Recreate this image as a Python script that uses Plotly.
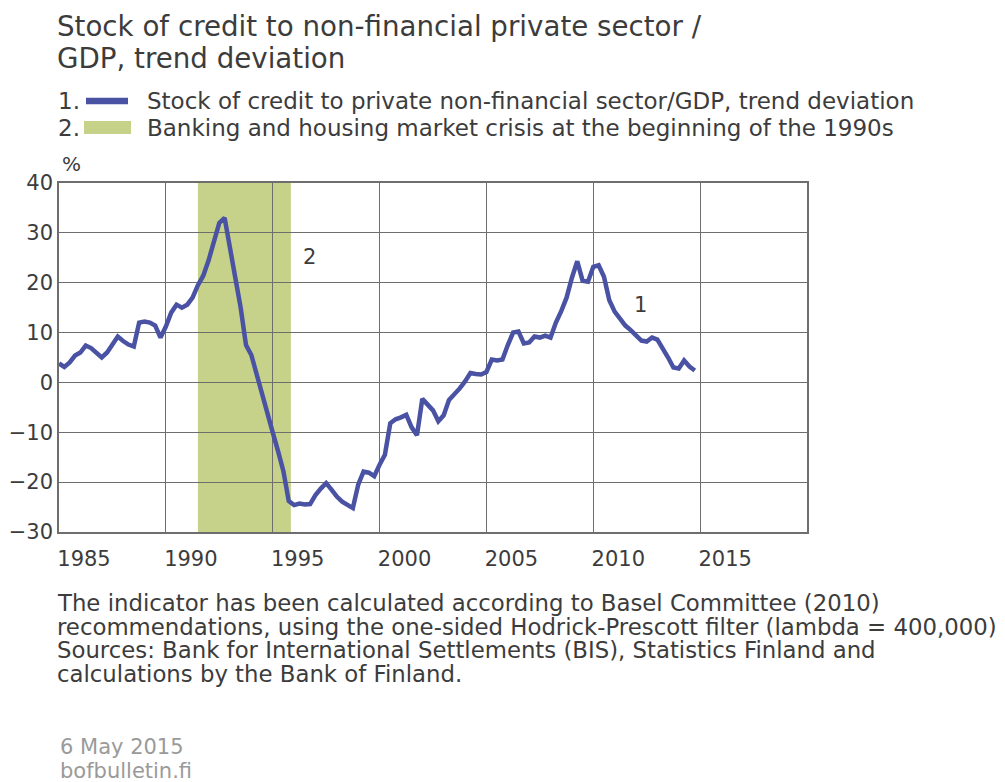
import plotly.graph_objects as go

# Quarterly data, 1985Q1 - 2014Q4 (% trend deviation)
start_year = 1985
credit_gap = [
    3.8, 3.1, 4.0, 5.4, 6.0, 7.4, 6.9, 5.8,          # 1985-1986
    5.0, 6.0, 7.6, 9.2, 8.3, 7.6, 7.2, 12.0,         # 1987-1988
    12.2, 12.0, 11.4, 9.0, 11.2, 14.0, 15.6, 15.0,   # 1989-1990
    15.6, 17.0, 19.5, 21.4, 24.5, 28.2, 32.0, 33.0,  # 1991-1992
    26.5, 21.0, 15.0, 7.5, 5.5, 1.8, -2.0, -5.8,     # 1993-1994
    -10.0, -13.8, -17.8, -23.8, -24.6, -24.3, -24.5, -24.4,  # 1995-1996
    -22.6, -21.3, -20.2, -21.5, -22.9, -23.9, -24.6, -25.2,  # 1997-1998
    -20.5, -17.9, -18.1, -18.8, -16.5, -14.5, -8.2, -7.4,    # 1999-2000
    -7.0, -6.5, -9.0, -10.6, -3.3, -4.3, -5.6, -7.8,         # 2001-2002
    -6.6, -3.5, -2.5, -1.2, 0.2, 1.9, 1.7, 1.6,              # 2003-2004
    2.1, 4.6, 4.4, 4.6, 7.5, 10.0, 10.2, 7.8,                # 2005-2006
    8.0, 9.2, 9.0, 9.4, 9.0, 12.0, 14.3, 17.0,               # 2007-2008
    21.0, 24.3, 20.4, 20.2, 23.2, 23.5, 21.2, 16.5,          # 2009-2010
    14.2, 12.6, 11.4, 10.5, 9.3, 8.4, 8.2, 9.0,              # 2011-2012
    8.6, 7.0, 5.0, 3.0, 2.8, 4.4, 3.2, 2.4,                  # 2013-2014
]
quarters = [start_year + i / 4 for i in range(len(credit_gap))]

crisis_start = 1991.5
crisis_end = 1995.85

x_tick_years = [1985, 1990, 1995, 2000, 2005, 2010, 2015]
x_tick_labels = [str(y) for y in x_tick_years]
y_ticks = [40, 30, 20, 10, 0, -10, -20, -30]

title_lines = ["Stock of credit to non-financial private sector /",
               "GDP, trend deviation"]
legend_1 = "Stock of credit to private non-financial sector/GDP, trend deviation"
legend_2 = "Banking and housing market crisis at the beginning of the 1990s"
note_lines = [
    "The indicator has been calculated according to Basel Committee (2010)",
    "recommendations, using the one-sided Hodrick-Prescott filter (lambda = 400,000).",
    "Sources: Bank for International Settlements (BIS), Statistics Finland and",
    "calculations by the Bank of Finland.",
]
date_lines = ["6 May 2015", "bofbulletin.fi"]

LINE_COLOR = "#4A52A4"
BAND_COLOR = "#C6D289"
TEXT_COLOR = "#3C3C3C"
GRAY_TEXT = "#9A9A9A"
GRID_COLOR = "#6E6E6E"
FONT = "DejaVu Sans"

W, H = 1005, 782
OFF = 8  # page body margin
# plot area in page pixels
PL, PR, PT, PB = 59, 807, 183, 532
L, R, T, B = PL - OFF, PR - OFF, PT - OFF, PB - OFF


def px(x):
    return (x - OFF - L) / (R - L)


def py(y):
    return (B - (y - OFF)) / (B - T)


def text_ann(text, x, y, size, color=TEXT_COLOR, xanchor="left"):
    return dict(text=text, x=px(x), y=py(y), xref="paper", yref="paper",
                xanchor=xanchor, yanchor="middle", align="left", showarrow=False,
                font=dict(family=FONT, size=size, color=color))


fig = go.Figure()

fig.add_trace(go.Scatter(x=quarters, y=credit_gap, mode="lines",
                         line=dict(color=LINE_COLOR, width=4.5),
                         showlegend=False, hoverinfo="x+y"))

annotations = []
for i, line in enumerate(title_lines):
    annotations.append(text_ann(line, 55, 26 + 32 * i, 27.7))
annotations.append(text_ann("1.", 56, 101, 23))
annotations.append(text_ann("2.", 56, 128, 23))
annotations.append(text_ann(legend_1, 145, 101, 23))
annotations.append(text_ann(legend_2, 145, 128, 23))
annotations.append(text_ann("%", 60, 164, 20))
for i, line in enumerate(note_lines):
    annotations.append(text_ann(line, 55, 603 + 23.5 * i, 22.8))
for i, line in enumerate(date_lines):
    annotations.append(text_ann(line, 58, 747 + 24 * i, 21, color=GRAY_TEXT))
annotations.append(dict(text="2", x=1996.7, y=25.2, xref="x", yref="y",
                        showarrow=False,
                        font=dict(family=FONT, size=21, color=TEXT_COLOR)))
annotations.append(dict(text="1", x=2012.2, y=15.5, xref="x", yref="y",
                        showarrow=False,
                        font=dict(family=FONT, size=21, color=TEXT_COLOR)))

fig.update_layout(
    width=W, height=H,
    margin=dict(l=L, r=W - R, t=T, b=H - B, autoexpand=False),
    paper_bgcolor="white", plot_bgcolor="white",
    font=dict(family=FONT, size=21, color=TEXT_COLOR),
    annotations=annotations,
    showlegend=False,
)

# crisis band
fig.add_shape(type="rect", xref="x", yref="paper", x0=crisis_start, x1=crisis_end,
              y0=0, y1=1, fillcolor=BAND_COLOR, line_width=0, layer="below")
# legend symbols
fig.add_shape(type="line", xref="paper", yref="paper", x0=px(86), x1=px(128),
              y0=py(101), y1=py(101), layer="above",
              line=dict(color=LINE_COLOR, width=6.5))
fig.add_shape(type="rect", xref="paper", yref="paper", x0=px(84), x1=px(131),
              y0=py(121), y1=py(134), layer="above",
              fillcolor=BAND_COLOR, line_width=0)

fig.update_xaxes(range=[1985, 2020], tickmode="array", tickvals=x_tick_years,
                 ticktext=x_tick_labels, ticklabelshift=25, ticklabelstandoff=7,
                 ticks="", showgrid=True, gridcolor=GRID_COLOR, gridwidth=1,
                 showline=True, linecolor=GRID_COLOR, linewidth=1.5, mirror=True,
                 zeroline=False, automargin=False,
                 tickfont=dict(family=FONT, size=21, color=TEXT_COLOR))
fig.update_yaxes(range=[-30, 40], tickmode="array", tickvals=y_ticks,
                 ticks="", showgrid=True, gridcolor=GRID_COLOR, gridwidth=1,
                 showline=True, linecolor=GRID_COLOR, linewidth=1.5, mirror=True,
                 zeroline=False, automargin=False,
                 tickfont=dict(family=FONT, size=21, color=TEXT_COLOR))

fig.write_html("out.html")
